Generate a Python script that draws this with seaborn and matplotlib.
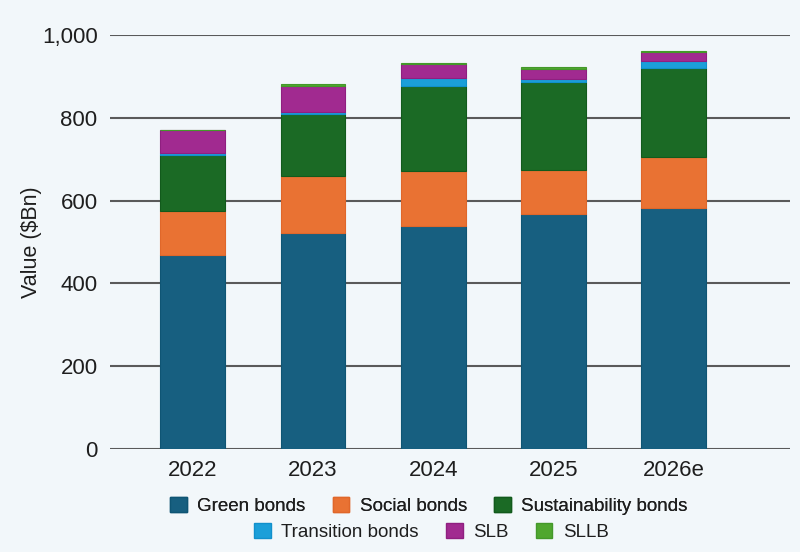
import matplotlib
matplotlib.use("Agg")
import matplotlib.pyplot as plt
import seaborn as sns
import pandas as pd
import numpy as np
from matplotlib.patches import Patch

years = ["2022", "2023", "2024", "2025", "2026e"]
green_bonds = [468, 522, 539, 568, 582]
social_bonds = [108, 138, 132, 107, 124]
sustainability_bonds = [133, 148, 206, 211, 215]
transition_bonds = [5, 6, 20, 8, 15]
slb = [56, 63, 33, 23, 22]
sllb = [1, 5, 2, 5, 3]

series_names = ["Green bonds", "Social bonds", "Sustainability bonds",
                "Transition bonds", "SLB", "SLLB"]
series_values = [green_bonds, social_bonds, sustainability_bonds,
                 transition_bonds, slb, sllb]
colors = ["#175f80", "#e97233", "#1b6a25", "#1b9fd9", "#a12a90", "#50a72f"]
edges = ["#0f5574", "#e0672a", "#125a1c", "#1190cc", "#8f1f80", "#44982a"]

bg = "#f2f7fa"
sns.set_theme(style="white")
plt.rcParams['font.family'] = ['Liberation Sans', 'DejaVu Sans']

fig = plt.figure(figsize=(8, 5.52), dpi=100, facecolor=bg)
ax = fig.add_axes([0.1375, 0.1866, 0.85, 0.75])
ax.set_facecolor(bg)

bottom = np.zeros(len(years))
for name, vals, c, e in zip(series_names, series_values, colors, edges):
    df = pd.DataFrame({"year": years, "value": vals})
    sns.barplot(data=df, x="year", y="value", bottom=bottom, color=c,
                width=0.54, ax=ax, saturation=1, linewidth=0.8,
                edgecolor=e, zorder=3)
    bottom = bottom + np.array(vals)

ax.set_ylim(0, 1000)
ax.set_xlim(-0.69, 4.97)
ax.set_yticks([0, 200, 400, 600, 800, 1000])
ax.set_yticklabels(["0", "200", "400", "600", "800", "1,000"])
ax.yaxis.grid(True, color="#5a5a5a", linewidth=1.5, zorder=0)
ax.set_axisbelow(True)
for s in ax.spines.values():
    s.set_visible(False)
ax.tick_params(axis="both", length=0, labelsize=16, colors="#1e1e1e")
ax.tick_params(axis="y", pad=9)
ax.tick_params(axis="x", pad=8)
ax.set_xlabel("")
ax.set_ylabel("Value ($Bn)", fontsize=15.5, color="#1e1e1e")
ax.yaxis.set_label_coords(-0.1, 0.5)

handles = [Patch(facecolor=c, edgecolor=e) for c, e in zip(colors, edges)]
common = dict(loc="center", ncol=3, frameon=False, fontsize=13.5,
              handlelength=0.9, handleheight=0.9, columnspacing=1.45,
              handletextpad=0.55, borderaxespad=0)
leg1 = fig.legend(handles[:3], series_names[:3],
                  bbox_to_anchor=(0.536, 1 - 506 / 552), **common)
leg2 = fig.legend(handles[3:], series_names[3:],
                  bbox_to_anchor=(0.539, 1 - 532 / 552), **common)
fig.add_artist(leg1)
for leg in (leg1, leg2):
    for t in leg.get_texts():
        t.set_color("#1e1e1e")

fig.savefig("out.png", dpi=100, facecolor=bg)
